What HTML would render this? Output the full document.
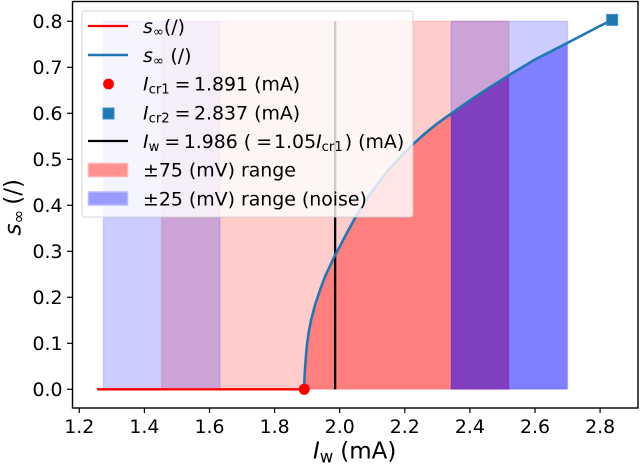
<!DOCTYPE html>
<html>
<head>
<meta charset="utf-8">
<style>
html,body{margin:0;padding:0;background:#fff;}
svg{display:block;}
text{font-family:"DejaVu Sans","Liberation Sans",sans-serif;fill:#000;}
.leg{font-size:18.9px;}
.tick{font-size:18.9px;}
.it{font-style:italic;}
</style>
</head>
<body>
<svg id="chart" width="640" height="465" viewBox="0 0 640 465" xmlns="http://www.w3.org/2000/svg">
  <g id="bands"></g>
  <g id="series"></g>
  <rect x="72.5" y="1.5" width="565.5" height="406.5" fill="none" stroke="#000" stroke-width="1.4"/>
  <g id="ticks"></g>
  <text x="313" y="458.7" font-size="23"><tspan class="it">I</tspan><tspan font-size="16.5" dy="4">w</tspan><tspan dy="-4" dx="7">(mA)</tspan></text>
  <text transform="translate(20.5,235.5) rotate(-90)" font-size="23"><tspan class="it">s</tspan><tspan font-size="16.5" dy="3.5">∞</tspan><tspan dy="-3.5" dx="5">(/)</tspan></text>

  <g>
    <rect x="82" y="11" width="331" height="206" rx="3" fill="#fff" fill-opacity="0.8" stroke="#ccc" stroke-opacity="0.8"/>
    <line x1="88" x2="128" y1="26" y2="26" stroke="#f00" stroke-width="2.3"/>
    <text class="leg" x="143" y="33"><tspan class="it">s</tspan><tspan font-size="13.2" dy="3">∞</tspan><tspan dy="-3">(/)</tspan></text>
    <line x1="88" x2="128" y1="55" y2="55" stroke="#1f77b4" stroke-width="2.6"/>
    <text class="leg" x="143" y="62"><tspan class="it">s</tspan><tspan font-size="13.2" dy="3">∞</tspan><tspan dy="-3" dx="6.5">(/)</tspan></text>
    <circle cx="108.5" cy="84" r="5.4" fill="#f00"/>
    <text class="leg" x="143" y="90.5"><tspan class="it">I</tspan><tspan font-size="13.2" dy="3">cr1</tspan><tspan dy="-3" dx="5">=</tspan><tspan dx="3.5">1.891 (mA)</tspan></text>
    <rect x="103" y="108" width="11" height="11" fill="#1f77b4" stroke="#3f8fd0"/>
    <text class="leg" x="143" y="119.5"><tspan class="it">I</tspan><tspan font-size="13.2" dy="3">cr2</tspan><tspan dy="-3" dx="5">=</tspan><tspan dx="3.5">2.837 (mA)</tspan></text>
    <line x1="88" x2="128" y1="141" y2="141" stroke="#000" stroke-width="2.3"/>
    <text class="leg" x="143" y="148"><tspan class="it">I</tspan><tspan font-size="13.2" dy="3">w</tspan><tspan dy="-3" dx="5">=</tspan><tspan dx="3.5">1.986 (</tspan><tspan dx="5">=</tspan><tspan dx="2">1.05</tspan><tspan class="it">I</tspan><tspan font-size="13.2" dy="3">cr1</tspan><tspan dy="-3" dx="2">) (mA)</tspan></text>
    <rect x="88.5" y="163.5" width="39" height="13" fill="#ff9090" stroke="#ffb0b0" stroke-width="1.5"/>
    <text class="leg" x="143" y="176.5">±75 (mV) range</text>
    <rect x="88.5" y="192" width="39" height="13" fill="#9a9aff" stroke="#b8b8ff" stroke-width="1.5"/>
    <text class="leg" x="143" y="205.5">±25 (mV) range (noise)</text>
  </g>
</svg>
<script>
const curveI = [1.891,1.8915,1.893,1.896,1.90,1.905,1.912,1.924,1.94,1.955,1.97,1.986,2.0,2.02,2.047,2.088,2.12,2.15,2.19,2.226,2.26,2.30,2.34,2.40,2.46,2.523,2.60,2.705,2.80,2.837];
const curveS = [0,0.018,0.04,0.07,0.1,0.125,0.15,0.183,0.217,0.245,0.268,0.292,0.31,0.337,0.372,0.419,0.45,0.477,0.508,0.533,0.555,0.578,0.598,0.628,0.656,0.684,0.717,0.755,0.79,0.803];
const redLineI = [1.2545,1.891];
const redLineS = [0,0];
const redRange = [1.453,2.52];
const blueRanges = [[1.274,1.632],[2.342,2.70]];
const bandTop = 0.8;
const wireCurrent = 1.986;
const icr1 = 1.891;
const icr2 = 2.837;
const icr2S = 0.803;
const xTicks = [1.2,1.4,1.6,1.8,2.0,2.2,2.4,2.6,2.8];
const yTicks = [0,0.1,0.2,0.3,0.4,0.5,0.6,0.7,0.8];

const NS = 'http://www.w3.org/2000/svg';
function X(v){return 79.3+(v-1.2)*325.5;}
function Y(v){return 389.3-v*460;}
function sAt(i){
  if(i<=curveI[0])return 0;
  for(let k=1;k<curveI.length;k++){
    if(i<=curveI[k]){
      const t=(i-curveI[k-1])/(curveI[k]-curveI[k-1]);
      return curveS[k-1]+t*(curveS[k]-curveS[k-1]);
    }
  }
  return curveS[curveS.length-1];
}
function stations(a,b){
  const out=[a];
  curveI.forEach(function(v){if(v>a&&v<b)out.push(v);});
  out.push(b);
  return out;
}
function mk(tag,attrs,parent){
  const el=document.createElementNS(NS,tag);
  Object.keys(attrs).forEach(function(k){el.setAttribute(k,attrs[k]);});
  parent.appendChild(el);
  return el;
}
function drawBand(range,color,parent,label){
  const st=stations(range[0],range[1]);
  const curve=st.map(function(i){return X(i).toFixed(2)+','+Y(sAt(i)).toFixed(2);});
  const upper=curve.concat([X(range[1]).toFixed(2)+','+Y(bandTop),X(range[0]).toFixed(2)+','+Y(bandTop)]);
  const lower=curve.concat([X(range[1]).toFixed(2)+','+Y(0),X(range[0]).toFixed(2)+','+Y(0)]);
  const up=mk('polygon',{points:upper.join(' '),fill:color,'fill-opacity':0.2},parent);
  
  
  const lo=mk('polygon',{points:lower.join(' '),fill:color,'fill-opacity':0.5},parent);
  
  
  const edge=mk('rect',{x:X(range[0]),y:Y(bandTop),width:X(range[1])-X(range[0]),height:Y(0)-Y(bandTop),fill:'none',stroke:color,'stroke-opacity':0.12,'stroke-width':1.5},parent);
  
  
}
const bandsLayer=document.getElementById('bands');
drawBand(redRange,'#ff0000',bandsLayer,'range-75mv');
blueRanges.forEach(function(r,idx){drawBand(r,'#0000ff',bandsLayer,'range-25mv-'+(idx+1));});

const seriesLayer=document.getElementById('series');
const wire=mk('line',{x1:X(wireCurrent),x2:X(wireCurrent),y1:Y(0),y2:Y(bandTop),stroke:'#000','stroke-width':2.3},seriesLayer);


const red=mk('polyline',{points:redLineI.map(function(v,i){return X(v)+','+Y(redLineS[i]);}).join(' '),fill:'none',stroke:'#f00','stroke-width':2.3},seriesLayer);


const blue=mk('polyline',{points:curveI.map(function(v,i){return X(v).toFixed(2)+','+Y(curveS[i]).toFixed(2);}).join(' '),fill:'none',stroke:'#1f77b4','stroke-width':2.6,'stroke-linejoin':'round'},seriesLayer);


const m1=mk('circle',{cx:X(icr1),cy:Y(0),r:5.5,fill:'#f00'},seriesLayer);


const m2=mk('rect',{x:X(icr2)-5.5,y:Y(icr2S)-5.5,width:11,height:11,fill:'#1f77b4',stroke:'#3f8fd0'},seriesLayer);



const ticksLayer=document.getElementById('ticks');
xTicks.forEach(function(v){
  const l=mk('line',{x1:X(v),x2:X(v),y1:408,y2:413,stroke:'#000','stroke-width':1.2},ticksLayer);
  
  
  const t=mk('text',{x:X(v),y:433,'text-anchor':'middle','class':'tick'},ticksLayer);
  t.textContent=v.toFixed(1);
  
  
});
yTicks.forEach(function(v){
  const l=mk('line',{x1:67,x2:72,y1:Y(v),y2:Y(v),stroke:'#000','stroke-width':1.2},ticksLayer);
  
  
  const t=mk('text',{x:62.5,y:Y(v)+6.7,'text-anchor':'end','class':'tick'},ticksLayer);
  t.textContent=v.toFixed(1);
  
  
});
</script>
</body>
</html>
